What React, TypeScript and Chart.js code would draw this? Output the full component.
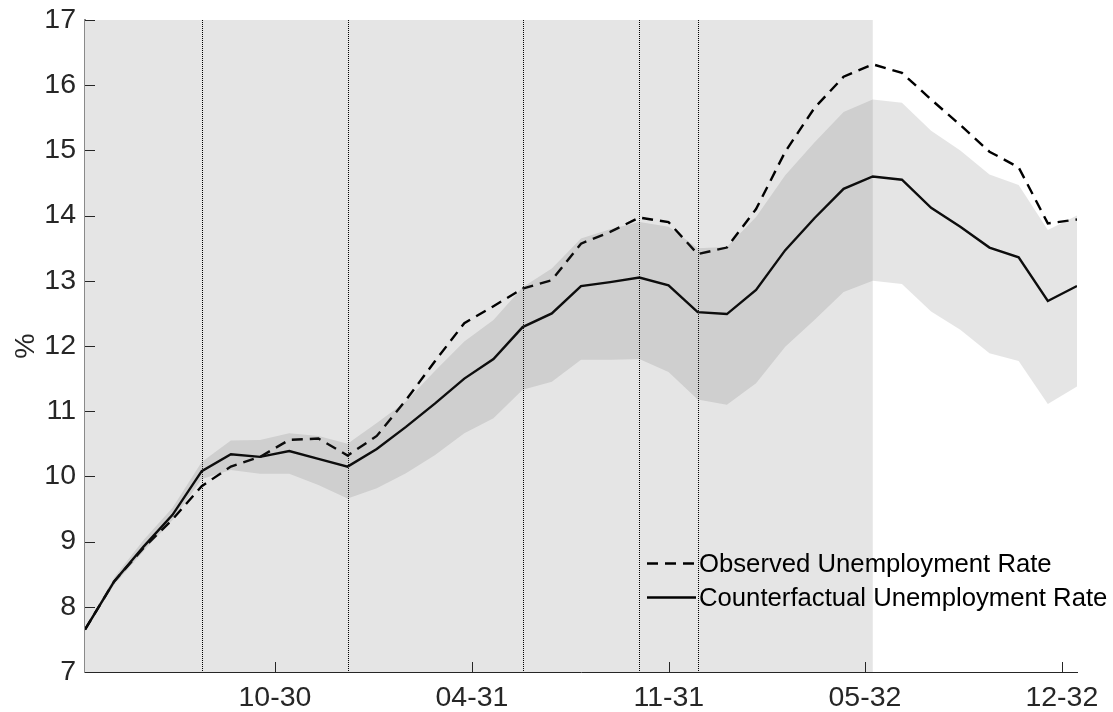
import React, { useEffect, useRef } from "react";
import { Chart, registerables } from "chart.js";

Chart.register(...registerables);

// Monthly series, index 0..34
const OBSERVED = [
  7.65, 8.39, 8.9, 9.34, 9.85, 10.15, 10.3, 10.56, 10.58, 10.32,
  10.62, 11.17, 11.77, 12.35, 12.61, 12.88, 13.01, 13.57, 13.75, 13.97,
  13.9, 13.41, 13.51, 14.1, 14.98, 15.65, 16.13, 16.32, 16.19, 15.78,
  15.39, 14.98, 14.74, 13.88, 13.94,
];
const COUNTERFACTUAL = [
  7.65, 8.39, 8.92, 9.41, 10.08, 10.34, 10.3, 10.39, 10.27, 10.15,
  10.42, 10.76, 11.12, 11.5, 11.8, 12.29, 12.5, 12.92, 12.98, 13.05,
  12.93, 12.52, 12.49, 12.86, 13.47, 13.96, 14.41, 14.6, 14.55, 14.12,
  13.83, 13.51, 13.36, 12.69, 12.92,
];
const BAND_LOW = [
  7.64, 8.34, 8.85, 9.33, 9.96, 10.1, 10.04, 10.04, 9.87, 9.66,
  9.82, 10.05, 10.33, 10.66, 10.89, 11.33, 11.45, 11.79, 11.79, 11.8,
  11.6, 11.18, 11.1, 11.43, 11.99, 12.4, 12.83, 13.0, 12.95, 12.53,
  12.25, 11.89, 11.77, 11.11, 11.38,
];
const BAND_HIGH = [
  7.66, 8.45, 9.02, 9.52, 10.22, 10.55, 10.56, 10.66, 10.62, 10.5,
  10.82, 11.15, 11.62, 12.07, 12.4, 12.9, 13.19, 13.65, 13.79, 13.9,
  13.83, 13.5, 13.52, 13.98, 14.62, 15.12, 15.59, 15.78, 15.73, 15.3,
  15.0, 14.63, 14.47, 13.78, 14.0,
];

const X_TICK_POS = [6.51, 13.26, 20.01, 26.73, 33.48];
const X_TICK_LABELS = ["10-30", "04-31", "11-31", "05-32", "12-32"];
const EVENT_LINES = [4, 9, 15, 19, 21];
const SHADE_END = 27;
const Y_MIN = 7;
const Y_MAX = 17;

const SERIES_NAMES = ["Observed Unemployment Rate", "Counterfactual Unemployment Rate"];

const FONT = '"Liberation Sans", Arial, Helvetica, sans-serif';
const AXIS_COLOR = "#262626";
const DASH = [11, 7];
const LINE_W = 2.4;

const toPoints = (arr: number[]) => arr.map((v, i) => ({ x: i, y: v }));

// Shaded period and dotted event markers behind the series
const backdropPlugin = {
  id: "backdrop",
  beforeDatasetsDraw(chart: any) {
    const { ctx, chartArea, scales } = chart;
    const xs = scales.x;
    const xEnd = xs.getPixelForValue(SHADE_END);
    ctx.save();
    ctx.fillStyle = "#e5e5e5";
    ctx.fillRect(chartArea.left, chartArea.top, xEnd - chartArea.left, chartArea.bottom - chartArea.top);
    ctx.strokeStyle = "#000";
    ctx.lineWidth = 1;
    ctx.setLineDash([1, 1]);
    EVENT_LINES.forEach((v) => {
      const px = Math.round(xs.getPixelForValue(v)) + 0.5;
      ctx.beginPath();
      ctx.moveTo(px, chartArea.top);
      ctx.lineTo(px, chartArea.bottom);
      ctx.stroke();
    });
    ctx.restore();
  },
};

// Inward tick marks and the legend
const overlayPlugin = {
  id: "overlay",
  afterDatasetsDraw(chart: any) {
    const { ctx, chartArea, scales } = chart;
    const xs = scales.x;
    const ys = scales.y;
    ctx.save();
    ctx.strokeStyle = AXIS_COLOR;
    ctx.lineWidth = 1;
    ctx.setLineDash([]);
    for (let v = Y_MIN; v <= Y_MAX; v++) {
      const py = Math.round(ys.getPixelForValue(v)) + 0.5;
      ctx.beginPath();
      ctx.moveTo(chartArea.left, py);
      ctx.lineTo(chartArea.left + 10, py);
      ctx.stroke();
    }
    X_TICK_POS.forEach((v) => {
      const px = Math.round(xs.getPixelForValue(v)) + 0.5;
      ctx.beginPath();
      ctx.moveTo(px, chartArea.bottom);
      ctx.lineTo(px, chartArea.bottom - 10);
      ctx.stroke();
    });

    // legend
    const rows = [
      { y: 563.5, dash: DASH, label: SERIES_NAMES[0] },
      { y: 597.5, dash: [] as number[], label: SERIES_NAMES[1] },
    ];
    ctx.font = `25.7px ${FONT}`;
    ctx.textBaseline = "middle";
    ctx.textAlign = "left";
    rows.forEach((r) => {
      ctx.strokeStyle = "#000";
      ctx.lineWidth = LINE_W;
      ctx.setLineDash(r.dash);
      ctx.beginPath();
      ctx.moveTo(647, r.y);
      ctx.lineTo(696, r.y);
      ctx.stroke();
      ctx.fillStyle = "#000";
      ctx.fillText(r.label, 699, r.y + 1);
    });
    ctx.restore();
  },
};

export default function App() {
  const canvasRef = useRef<HTMLCanvasElement | null>(null);

  useEffect(() => {
    if (!canvasRef.current) return;
    const chart = new Chart(canvasRef.current, {
      type: "line",
      data: {
        datasets: [
          {
            label: "band-low",
            data: toPoints(BAND_LOW),
            borderColor: "rgba(0,0,0,0)",
            borderWidth: 1,
            pointRadius: 0,
            fill: false,
          },
          {
            label: "band-high",
            data: toPoints(BAND_HIGH),
            borderColor: "rgba(0,0,0,0)",
            borderWidth: 1,
            pointRadius: 0,
            fill: "-1",
            backgroundColor: "rgba(86,86,86,0.154)",
          },
          {
            label: SERIES_NAMES[0],
            data: toPoints(OBSERVED),
            borderColor: "#000",
            borderWidth: LINE_W,
            borderDash: DASH,
            pointRadius: 0,
            fill: false,
          },
          {
            label: SERIES_NAMES[1],
            data: toPoints(COUNTERFACTUAL),
            borderColor: "#000",
            borderWidth: LINE_W,
            pointRadius: 0,
            fill: false,
          },
        ],
      },
      options: {
        animation: false,
        responsive: false,
        maintainAspectRatio: false,
        layout: { padding: { left: 0, right: 36, top: 20, bottom: 0 } },
        plugins: {
          legend: { display: false },
          tooltip: { enabled: false },
        },
        elements: { line: { tension: 0, borderJoinStyle: "miter" } },
        scales: {
          x: {
            type: "linear",
            min: 0,
            max: OBSERVED.length - 1,
            z: 1,
            grid: { display: false },
            border: { display: true, color: AXIS_COLOR, width: 1 },
            afterBuildTicks: (scale: any) => {
              scale.ticks = X_TICK_POS.map((v) => ({ value: v }));
            },
            afterFit: (scale: any) => {
              scale.height = 40;
            },
            ticks: {
              autoSkip: false,
              maxRotation: 0,
              padding: 1,
              color: AXIS_COLOR,
              font: { family: FONT, size: 28.5 },
              callback: (value: any) => {
                const i = X_TICK_POS.findIndex((p) => Math.abs(p - Number(value)) < 1e-6);
                return i >= 0 ? X_TICK_LABELS[i] : "";
              },
            },
          },
          y: {
            type: "linear",
            min: Y_MIN,
            max: Y_MAX,
            z: 1,
            grid: { display: false },
            border: { display: true, color: "#8a8a8a", width: 2 },
            afterFit: (scale: any) => {
              scale.width = 85;
            },
            title: {
              display: true,
              text: "%",
              color: AXIS_COLOR,
              font: { family: FONT, size: 28.5 },
              padding: { top: 9, bottom: 0 },
            },
            ticks: {
              stepSize: 1,
              padding: 1,
              color: AXIS_COLOR,
              font: { family: FONT, size: 28.5 },
            },
          },
        },
      },
      plugins: [backdropPlugin, overlayPlugin],
    });
    return () => chart.destroy();
  }, []);

  return (
    <div style={{ position: "fixed", left: 0, top: 0, width: 1113, height: 712, background: "#fff" }}>
      <canvas ref={canvasRef} width={1113} height={712} />
    </div>
  );
}
